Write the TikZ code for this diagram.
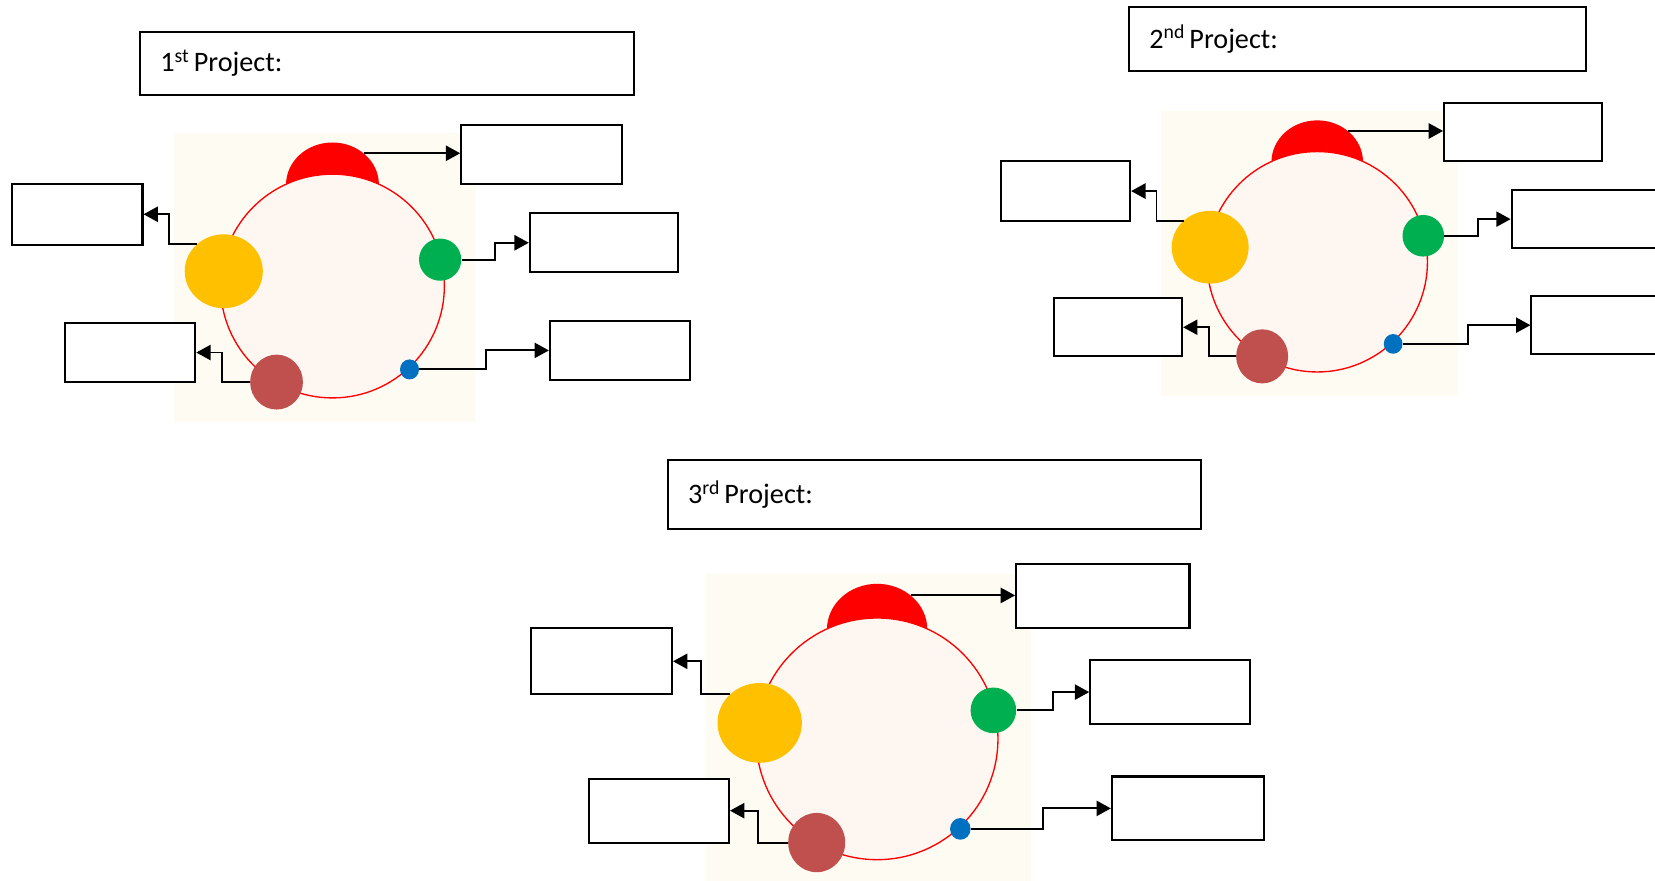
\documentclass[tikz,border=0pt]{standalone}
\usepackage{fontspec}
\setmainfont{Carlito}
\usepackage{tikz}
\usetikzlibrary{shapes,arrows}
\usetikzlibrary{positioning}
\usetikzlibrary{arrows.meta}

\definecolor{ringred}{RGB}{255,0,0}
\definecolor{bgcream}{RGB}{253,251,242}
\definecolor{ringfill}{RGB}{253,246,241}
\definecolor{dotyellow}{RGB}{255,192,0}
\definecolor{dotgreen}{RGB}{0,176,80}
\definecolor{dotbrown}{RGB}{192,80,77}
\definecolor{dotblue}{RGB}{0,112,192}

\tikzset{
	box/.style={draw, line width=1.4pt, fill=white, minimum height=14mm, inner sep=0pt},
	title/.style={draw, line width=1.4pt, minimum height=15mm, inner xsep=4.75mm, align=left, font=\fontsize{19}{23}\selectfont},
	blob/.style={ellipse, inner sep=0pt},
	ring/.style={circle, draw=ringred, line width=0.9pt, fill=ringfill, minimum size=53mm, inner sep=0pt},
	conn/.style={line width=1.3pt, -{Triangle[length=3.4mm, width=3.6mm]}}
}

% one ring with its five label boxes
\newcommand{\projring}[4]{%
	\begin{scope}[shift={(#2,#3)}, scale=#4, transform shape]
		\fill[bgcream] (-150,-145) rectangle (135,129);
		\node[blob, fill=ringred, minimum width=22mm, minimum height=20mm] (#1red) at (0,-96) {};
		\node[ring] (#1ring) at (0,0) {};
		\node[blob, fill=dotyellow, minimum width=18.5mm, minimum height=17.5mm] (#1ye) at (-103,-14) {};
		\node[blob, fill=dotgreen, minimum size=10mm] (#1gr) at (102,-25) {};
		\node[blob, fill=dotbrown, minimum width=12.5mm, minimum height=13mm] (#1br) at (-53,91) {};
		\node[blob, fill=dotblue, minimum width=4.5mm, minimum height=4.75mm] (#1bl) at (73,79) {};

		\node[box, minimum width=38mm] (#1tr) at (198,-125) {};
		\node[box, minimum width=35mm] (#1rm) at (257,-41) {};
		\node[box, minimum width=33.25mm] (#1rb) at (272.5,61) {};
		\node[box, minimum width=31mm, minimum height=14.5mm] (#1lt) at (-242,-68) {};
		\node[box, minimum width=30.75mm] (#1lb) at (-191.5,63) {};

		\draw[conn] (#1red.45) -- (#1red.45 -| #1tr.west);
		\draw[conn] (#1gr.east) -- ++(32,0) |- (#1rm.west);
		\draw[conn] (#1bl.east) -- ++(63,0) |- (#1rb.west);
		\draw[conn] (#1ye.135) -- ++(-26,0) |- (#1lt.east);
		\draw[conn] (#1br.west) -- ++(-26,0) |- (#1lb.east);
	\end{scope}}

\begin{document}
\begin{tikzpicture}[x=0.25mm, y=-0.25mm]

	\path[use as bounding box, fill=white] (0,0) rectangle (1568,834);

	\node[title, text width=107.5mm] (p1title) at (367,60) {1\textsuperscript{st}\hspace{0.15em}Project:};
	\node[title, text width=98.75mm] (p2title) at (1286.5,37) {2\textsuperscript{nd}\hspace{0.15em}Project:};
	\node[title, text width=116.75mm, minimum height=16.25mm] (p3title) at (885.5,468.5) {3\textsuperscript{rd}\hspace{0.15em}Project:};

	\projring{p1}{315}{271}{1}
	\projring{p2}{1248}{248}{0.985}
	\projring{p3}{831}{700}{1.08}

\end{tikzpicture}
\end{document}
